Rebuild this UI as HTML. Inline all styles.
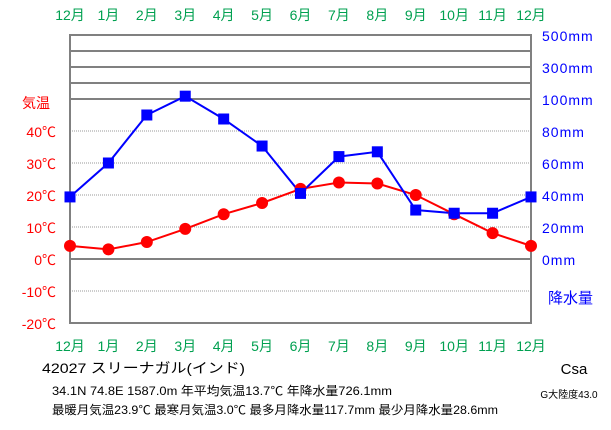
<!DOCTYPE html>
<html><head><meta charset="utf-8"><style>
body{margin:0;background:#fff;width:611px;height:425px;overflow:hidden}
svg text{font-family:"Liberation Sans","Noto Sans CJK JP",sans-serif}
</style></head><body>
<svg width="611" height="425">
<g id="grid"></g><g id="axes"></g><g id="series"></g>
<text x="42" y="373" font-size="14" textLength="203" lengthAdjust="spacingAndGlyphs">42027  スリーナガル(インド)</text>
<text x="52" y="395" font-size="12" textLength="340" lengthAdjust="spacingAndGlyphs">34.1N  74.8E  1587.0m 年平均気温13.7℃ 年降水量726.1mm</text>
<text x="52" y="414" font-size="12" textLength="446" lengthAdjust="spacingAndGlyphs">最暖月気温23.9℃ 最寒月気温3.0℃ 最多月降水量117.7mm 最少月降水量28.6mm</text>
<text x="574" y="374" font-size="15" text-anchor="middle">Csa</text>
<text x="569" y="398" font-size="10" text-anchor="middle">G大陸度43.0</text>
<text x="22" y="108" font-size="14" fill="#f00">気温</text>
<text x="548" y="303" font-size="15" fill="#00f">降水量</text>
</svg>
<script>
const months=["12月","1月","2月","3月","4月","5月","6月","7月","8月","9月","10月","11月","12月"];
const temps=[4.1,3.0,5.3,9.4,14.0,17.5,21.9,23.9,23.6,20.0,14.0,8.1,4.1];
const precip=[38.8,60,90,117.7,87.5,70.6,41,64,67,30.6,28.6,28.6,38.8];
const tempTicks=[40,30,20,10,0,-10,-20];
const precipTicks=[0,20,40,60,80,100,300,500];
const NS="http://www.w3.org/2000/svg";
const L=70,R=531,T=35,B=323;
const xs=i=>L+i*(R-L)/12;
const yT=t=>259-t*3.2;
const yP=p=>p<=100?259-p*1.6:99-(p-100)/200*32;
function mk(tag,attrs,parent){const e=document.createElementNS(NS,tag);for(const k in attrs)e.setAttribute(k,attrs[k]);document.getElementById(parent).appendChild(e);return e;}
tempTicks.forEach(t=>{if(t!==0&&t!==-20){const l=mk("line",{x1:L,x2:R,y1:yT(t),y2:yT(t),stroke:"#999","stroke-dasharray":"1,1"},"grid");

}
const tx=mk("text",{x:56,y:yT(t)+6,"font-size":"14",fill:"#f00","text-anchor":"end"},"axes");tx.textContent=t+"℃";

});
[100,300].forEach(p=>{const l=mk("line",{x1:L,x2:R,y1:yP(p),y2:yP(p),stroke:"#808080","stroke-width":2},"grid");

});
[200,400].forEach(p=>{const y=p==200?83:51;const l=mk("line",{x1:L,x2:R,y1:y,y2:y,stroke:"#808080","stroke-width":2},"grid");

});
const z=mk("line",{x1:L,x2:R,y1:yT(0),y2:yT(0),stroke:"#808080","stroke-width":2},"grid");


const fr=mk("rect",{x:L,y:T,width:R-L,height:B-T,fill:"none",stroke:"#808080","stroke-width":2},"grid");


precipTicks.forEach(p=>{const tx=mk("text",{x:542,y:yP(p)+6,"font-size":"14",fill:"#00f","letter-spacing":"1"},"axes");tx.textContent=p+"mm";

});
months.forEach((m,i)=>{[20,351].forEach(y=>{const tx=mk("text",{x:xs(i),y:y,"font-size":"14",fill:"#00a050","text-anchor":"middle"},"axes");tx.textContent=m;

});});
const tl=mk("polyline",{points:temps.map((t,i)=>xs(i)+","+yT(t)).join(" "),fill:"none",stroke:"#f00","stroke-width":2},"series");


const pl=mk("polyline",{points:precip.map((p,i)=>xs(i)+","+yP(p)).join(" "),fill:"none",stroke:"#00f","stroke-width":2},"series");


temps.forEach((t,i)=>{const c=mk("circle",{cx:xs(i),cy:yT(t),r:6,fill:"#f00"},"series");

});
precip.forEach((p,i)=>{const r=mk("rect",{x:xs(i)-5.5,y:yP(p)-5.5,width:11,height:11,fill:"#00f"},"series");

});
</script>
</body></html>
